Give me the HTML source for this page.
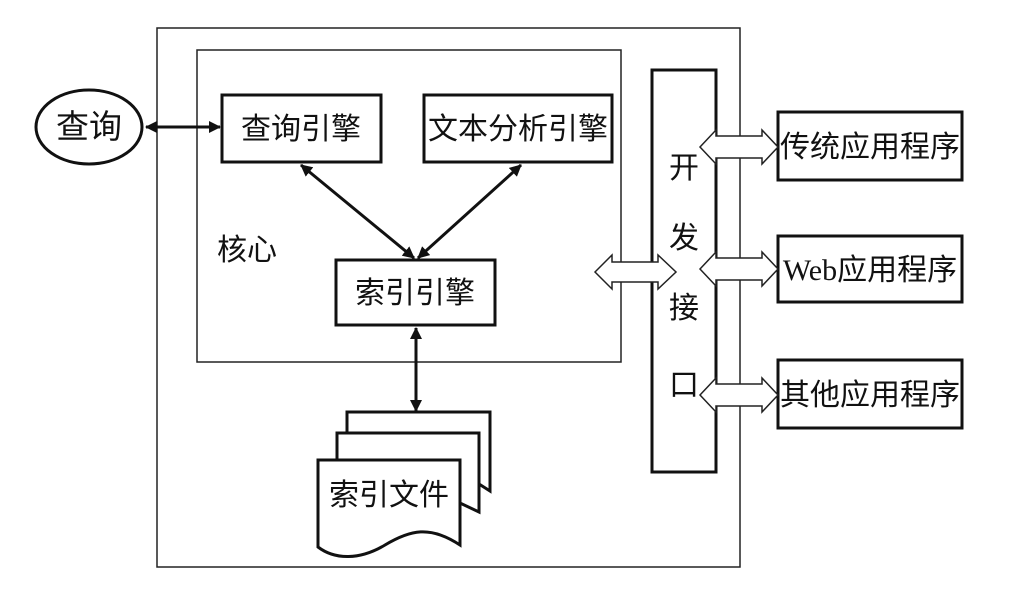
<!DOCTYPE html>
<html><head><meta charset="utf-8"><style>
body{margin:0;background:#fff;}
svg text{font-family:"Liberation Serif","Noto Sans CJK SC",sans-serif;fill:#111;}
</style></head><body>
<svg width="1016" height="590" viewBox="0 0 1016 590" xmlns="http://www.w3.org/2000/svg">
<defs>
<marker id="a" markerWidth="12" markerHeight="12" refX="11" refY="6" orient="auto" markerUnits="userSpaceOnUse"><path d="M0,0 L12,6 L0,12 z" fill="#111"/></marker>
<marker id="b" markerWidth="12" markerHeight="12" refX="1" refY="6" orient="auto" markerUnits="userSpaceOnUse"><path d="M12,0 L0,6 L12,12 z" fill="#111"/></marker>
</defs>
<g fill="none" stroke="#222">
<rect x="157" y="28" width="583" height="539" stroke-width="1.5"/>
<rect x="197" y="50" width="424" height="312" stroke-width="1.5"/>
</g>
<g fill="#fff" stroke="#111" stroke-width="3">
<ellipse cx="89" cy="127" rx="53" ry="37"/>
<rect x="222" y="95" width="159" height="67"/>
<rect x="424" y="95" width="188" height="67"/>
<rect x="336" y="260" width="159" height="65"/>
<rect x="652" y="70" width="64" height="402"/>
<rect x="778" y="112" width="184" height="68"/>
<rect x="778" y="236" width="184" height="66"/>
<rect x="778" y="360" width="184" height="68"/>
<path d="M347,412 H490 V491 L479,484 H347 Z"/>
<path d="M337,433 H479 V512 L460,503 H337 Z"/>
<path d="M318,460 H460 V545 C430,525 410,530 385,545 C360,560 335,560 318,547 Z"/>
</g>
<g stroke="#111" stroke-width="3" fill="none">
<line x1="146" y1="127" x2="220" y2="127" marker-start="url(#b)" marker-end="url(#a)"/>
<line x1="301" y1="165" x2="414" y2="258" marker-start="url(#b)" marker-end="url(#a)"/>
<line x1="521" y1="165" x2="418" y2="258" marker-start="url(#b)" marker-end="url(#a)"/>
<line x1="416" y1="328" x2="416" y2="411" marker-start="url(#b)" marker-end="url(#a)"/>
</g>
<g fill="#fff" stroke="#222" stroke-width="1.5">
<path d="M595,272 L612,255 V262 H658 V255 L676,272 L658,289 V282 H612 V289 Z"/>
<path d="M700,147 L716,130 V136 H762 V130 L778,147 L762,164 V158 H716 V164 Z"/>
<path d="M700,269 L716,252 V258 H762 V252 L778,269 L762,286 V280 H716 V286 Z"/>
<path d="M700,395 L716,378 V384 H762 V378 L778,395 L762,412 V406 H716 V412 Z"/>
</g>
<g font-size="30">
<text x="89" y="138" text-anchor="middle" font-size="33">查询</text>
<text x="301" y="139" text-anchor="middle">查询引擎</text>
<text x="518" y="139" text-anchor="middle">文本分析引擎</text>
<text x="415" y="303" text-anchor="middle">索引引擎</text>
<text x="217" y="260">核心</text>
<text x="389" y="505" text-anchor="middle">索引文件</text>
<text x="684" y="178" text-anchor="middle">开</text>
<text x="684" y="248" text-anchor="middle">发</text>
<text x="684" y="318" text-anchor="middle">接</text>
<text x="684" y="395" text-anchor="middle">口</text>
<text x="870" y="157" text-anchor="middle">传统应用程序</text>
<text x="870" y="280" text-anchor="middle">Web应用程序</text>
<text x="870" y="405" text-anchor="middle">其他应用程序</text>
</g>
</svg>
</body></html>
